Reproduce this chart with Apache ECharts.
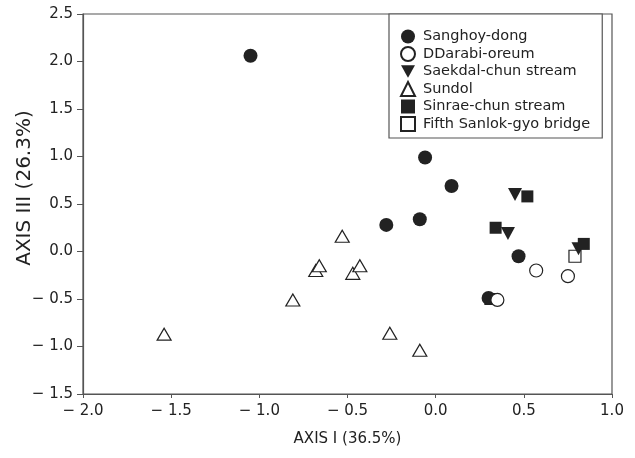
<!DOCTYPE html>
<html>
<head>
<meta charset="utf-8">
<script src="https://cdn.jsdelivr.net/npm/echarts@6/dist/echarts.min.js"></script>
<style>
  html, body { margin: 0; padding: 0; background: #fff; }
  #chart { width: 635px; height: 458px; }
</style>
</head>
<body>
<div id="chart"></div>
<script>
// group names (legend order)
const groupNames = ['Sanghoy-dong', 'DDarabi-oreum', 'Saekdal-chun stream', 'Sundol', 'Sinrae-chun stream', 'Fifth Sanlok-gyo bridge']

// ordination scores, axis I / axis III
const sanghoyX = [-1.05, -0.06, 0.09, -0.28, -0.09, 0.47, 0.30]
const sanghoyY = [2.06, 0.99, 0.69, 0.28, 0.34, -0.05, -0.49]
const darabiX = [0.35, 0.57, 0.75]
const darabiY = [-0.51, -0.20, -0.26]
const saekdalX = [0.45, 0.41, 0.81]
const saekdalY = [0.60, 0.19, 0.03]
const sundolX = [-1.54, -0.81, -0.68, -0.66, -0.53, -0.47, -0.43, -0.26, -0.09]
const sundolY = [-0.87, -0.51, -0.20, -0.15, 0.16, -0.23, -0.15, -0.86, -1.04]
const sinraeX = [0.52, 0.34, 0.84, 0.31]
const sinraeY = [0.58, 0.25, 0.08, -0.50]
const fifthX = [0.79]
const fifthY = [-0.05]

const xTicks = [-2.0, -1.5, -1.0, -0.5, 0.0, 0.5, 1.0]
const yTicks = [-1.5, -1.0, -0.5, 0.0, 0.5, 1.0, 1.5, 2.0, 2.5]

const ink = '#222'
const frame = '#555'
const font = 'DejaVu Sans, Liberation Sans, sans-serif'

function pairs(xs, ys) {
  return xs.map((x, i) => [x, ys[i]])
}

// "− 0.5" style labels like the printed figure
function tickLabel(v) {
  const s = Math.abs(v).toFixed(1)
  return v < 0 ? '\u2212 ' + s : s
}

let myChart = echarts.init(document.getElementById('chart'))

const filled = { color: ink, opacity: 1 }
const hollow = { color: '#fff', borderColor: ink, borderWidth: 1.2, opacity: 1 }

// legend icons; the down triangle needs its own path
const legendIcons = ['circle', 'circle', 'path://M0,0L20,0L10,18Z', 'triangle', 'rect', 'rect']

myChart.setOption({
  animation: false,
  textStyle: { fontFamily: font },
  grid: {
    left: 83,
    right: 23,
    top: 14,
    bottom: 64,
    show: true,
    borderColor: frame,
    borderWidth: 1.2,
  },
  legend: {
    orient: 'vertical',
    left: 389,
    top: 14,
    padding: [15, 12, 6, 11],
    itemWidth: 14,
    itemHeight: 14,
    itemGap: 2,
    borderColor: frame,
    borderWidth: 1.2,
    backgroundColor: '#fff',
    textStyle: { fontSize: 14.5, lineHeight: 14, color: ink, fontFamily: font, padding: [0, 0, 0, 3] },
    data: groupNames.map((name, i) => ({ name: name, icon: legendIcons[i] })),
  },
  graphic: [
    {
      type: 'text',
      x: 25,
      y: 188,
      rotation: Math.PI / 2,
      style: {
        text: 'AXIS III (26.3%)',
        font: '20px ' + font,
        fill: ink,
        align: 'center',
        verticalAlign: 'middle',
      },
    },
  ],
  xAxis: {
    type: 'value',
    min: xTicks[0],
    max: xTicks[xTicks.length - 1],
    interval: 0.5,
    name: 'AXIS I (36.5%)',
    nameLocation: 'middle',
    nameGap: 38,
    nameTextStyle: { fontSize: 15, color: ink, fontFamily: font },
    splitLine: { show: false },
    axisLine: { show: true, onZero: false, lineStyle: { color: frame, width: 1.2 } },
    axisTick: { show: true, length: 4, lineStyle: { color: frame } },
    axisLabel: { fontSize: 15, color: ink, margin: 10, formatter: tickLabel },
  },
  yAxis: {
    type: 'value',
    min: yTicks[0],
    max: yTicks[yTicks.length - 1],
    interval: 0.5,
    splitLine: { show: false },
    axisLine: { show: true, onZero: false, lineStyle: { color: frame, width: 1.2 } },
    axisTick: { show: true, length: 6, lineStyle: { color: frame } },
    axisLabel: { fontSize: 15, color: ink, margin: 10, formatter: tickLabel },
  },
  series: [
    {
      name: groupNames[0],
      type: 'scatter',
      symbol: 'circle',
      symbolSize: 14,
      itemStyle: filled,
      data: pairs(sanghoyX, sanghoyY),
      z: 3,
    },
    {
      name: groupNames[1],
      type: 'scatter',
      symbol: 'circle',
      symbolSize: 13,
      itemStyle: hollow,
      data: pairs(darabiX, darabiY),
      z: 4,
    },
    {
      name: groupNames[2],
      type: 'scatter',
      symbol: 'triangle',
      symbolRotate: 180,
      symbolSize: [14, 13],
      itemStyle: filled,
      data: pairs(saekdalX, saekdalY),
      z: 2,
    },
    {
      name: groupNames[3],
      type: 'scatter',
      symbol: 'triangle',
      symbolSize: [14, 12],
      itemStyle: hollow,
      data: pairs(sundolX, sundolY),
      z: 2,
    },
    {
      name: groupNames[4],
      type: 'scatter',
      symbol: 'rect',
      symbolSize: 12,
      itemStyle: filled,
      data: pairs(sinraeX, sinraeY),
      z: 2,
    },
    {
      name: groupNames[5],
      type: 'scatter',
      symbol: 'rect',
      symbolSize: 12,
      itemStyle: hollow,
      data: pairs(fifthX, fifthY),
      z: 1,
    },
  ],
})
</script>
</body>
</html>
